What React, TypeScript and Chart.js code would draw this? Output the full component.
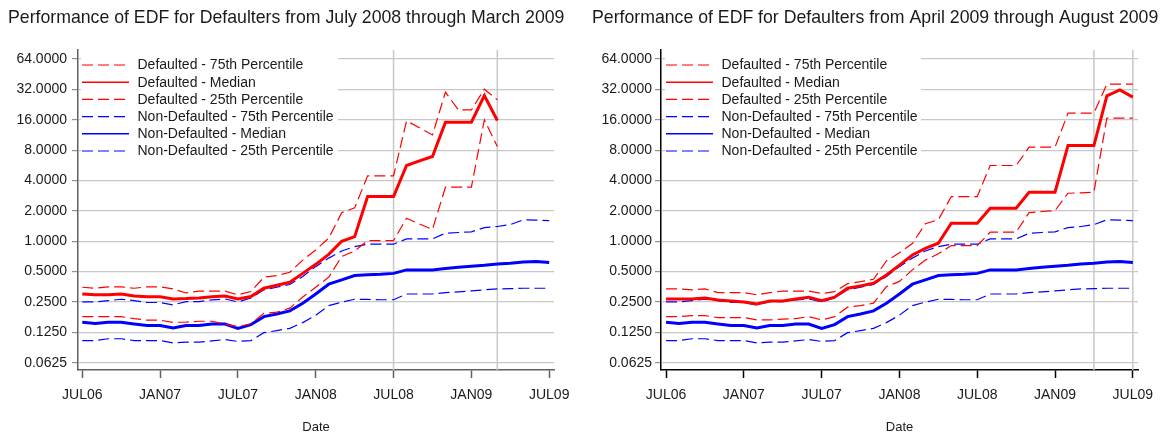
import React, { useEffect, useRef } from "react";
import { Chart, registerables } from "chart.js";

Chart.register(...registerables);

// ---------- DATA ----------
const monthLabels = [
  "JUL06", "AUG06", "SEP06", "OCT06", "NOV06", "DEC06",
  "JAN07", "FEB07", "MAR07", "APR07", "MAY07", "JUN07",
  "JUL07", "AUG07", "SEP07", "OCT07", "NOV07", "DEC07",
  "JAN08", "FEB08", "MAR08", "APR08", "MAY08", "JUN08",
  "JUL08", "AUG08", "SEP08", "OCT08", "NOV08", "DEC08",
  "JAN09", "FEB09", "MAR09", "APR09", "MAY09", "JUN09",
  "JUL09",
];

const xTickLabels = ["JUL06", "JAN07", "JUL07", "JAN08", "JUL08", "JAN09", "JUL09"];
const yTickValues = [0.0625, 0.125, 0.25, 0.5, 1, 2, 4, 8, 16, 32, 64];

// Non-defaulted (same in both panels)
const nonDef75 = [
  0.25, 0.25, 0.258, 0.266, 0.258, 0.247, 0.247, 0.234, 0.252, 0.252, 0.262, 0.268,
  0.25, 0.274, 0.33, 0.35, 0.372, 0.447, 0.56, 0.68, 0.8, 0.885, 0.934, 0.934,
  0.934, 1.055, 1.055, 1.055, 1.2, 1.22, 1.24, 1.366, 1.4, 1.46, 1.63, 1.62, 1.6,
];
const nonDef50 = [
  0.157, 0.153, 0.157, 0.157, 0.151, 0.146, 0.146, 0.138, 0.146, 0.146, 0.151, 0.151,
  0.137, 0.149, 0.179, 0.19, 0.204, 0.243, 0.3, 0.375, 0.414, 0.457, 0.464, 0.47,
  0.48, 0.52, 0.52, 0.52, 0.536, 0.553, 0.565, 0.578, 0.596, 0.605, 0.624, 0.629, 0.615,
];
const nonDef25 = [
  0.1036, 0.1036, 0.108, 0.108, 0.1036, 0.1036, 0.1036, 0.098, 0.0998, 0.1, 0.103, 0.106,
  0.1015, 0.1036, 0.124, 0.13, 0.137, 0.156, 0.185, 0.23, 0.249, 0.266, 0.265, 0.263,
  0.263, 0.3, 0.3, 0.3, 0.31, 0.315, 0.322, 0.33, 0.337, 0.339, 0.342, 0.342, 0.342,
];

// Left panel: defaulters July 2008 - March 2009
const defA75 = [
  0.35, 0.342, 0.353, 0.353, 0.342, 0.353, 0.353, 0.337, 0.307, 0.32, 0.32, 0.32,
  0.294, 0.317, 0.44, 0.457, 0.493, 0.65, 0.82, 1.07, 1.92, 2.14, 4.45, 4.45,
  4.45, 15.6, 13.3, 11.3, 30.0, 20.0, 20.0, 32.1, 25.2,
];
const defA50 = [
  0.3, 0.294, 0.294, 0.3, 0.287, 0.281, 0.281, 0.268, 0.27, 0.274, 0.281, 0.287,
  0.268, 0.283, 0.342, 0.366, 0.392, 0.48, 0.59, 0.74, 1.0, 1.11, 2.77, 2.77,
  2.77, 5.63, 6.26, 6.91, 15.1, 15.1, 15.1, 27.8, 15.7,
];
const defA25 = [
  0.179, 0.179, 0.179, 0.179, 0.171, 0.165, 0.165, 0.157, 0.158, 0.161, 0.161, 0.151,
  0.142, 0.152, 0.193, 0.198, 0.217, 0.28, 0.35, 0.44, 0.705, 0.8, 1.015, 1.015,
  1.015, 1.69, 1.48, 1.31, 3.43, 3.43, 3.43, 15.95, 8.68,
];

// Right panel: defaulters April 2009 - August 2009
const defB75 = [
  0.337, 0.337, 0.33, 0.337, 0.31, 0.31, 0.31, 0.294, 0.31, 0.32, 0.32, 0.32,
  0.303, 0.317, 0.38, 0.397, 0.42, 0.638, 0.77, 0.95, 1.49, 1.63, 2.77, 2.77,
  2.77, 5.63, 5.63, 5.63, 8.55, 8.55, 8.55, 18.6, 18.6, 18.6, 36, 36, 36,
];
const defB50 = [
  0.268, 0.268, 0.268, 0.274, 0.262, 0.256, 0.25, 0.239, 0.256, 0.256, 0.268, 0.279,
  0.258, 0.279, 0.342, 0.361, 0.383, 0.463, 0.58, 0.73, 0.85, 0.956, 1.51, 1.51,
  1.51, 2.12, 2.12, 2.12, 3.06, 3.06, 3.06, 8.88, 8.88, 8.88, 27.6, 31.6, 26.8,
];
const defB25 = [
  0.179, 0.179, 0.183, 0.183, 0.175, 0.175, 0.175, 0.166, 0.166, 0.169, 0.171, 0.179,
  0.166, 0.179, 0.222, 0.23, 0.243, 0.355, 0.4, 0.52, 0.65, 0.75, 0.906, 0.906,
  0.906, 1.23, 1.23, 1.23, 1.92, 1.97, 2.01, 2.99, 3.02, 3.06, 16.6, 16.6, 16.6,
];

const leftRefMonths = ["JUL08", "MAR09"];
const rightRefMonths = ["APR09", "JUL09"];

const seriesNames = [
  "Defaulted - 75th Percentile",
  "Defaulted - Median",
  "Defaulted - 25th Percentile",
  "Non-Defaulted - 75th Percentile",
  "Non-Defaulted - Median",
  "Non-Defaulted - 25th Percentile",
];

// ---------- STYLE ----------
const FONT = "'Liberation Sans', Arial, Helvetica, sans-serif";
const TEXT = "#1a1a1a";
const RED = "#ff0000";
const BLUE = "#0000ff";
const GRID = "#c8c8c8";
const DASH = [11, 5];

const idx = (label: string) => monthLabels.indexOf(label);
const pts = (vals: number[]) => vals.map((v, i) => ({ x: i, y: v }));

type PanelCfg = {
  title: string;
  d75: number[];
  d50: number[];
  d25: number[];
  refs: string[];
  axisWidth: number;
  rightPad: number;
  xMin: number;
  xMax: number;
  axisColor: string;
  titleX: number;
  legendX: number;
  boxRight: number;
  labelPad: number;
};

const panelPlugin = {
  id: "panelDeco",
  beforeDatasetsDraw(chart: any, _args: any, opts: any) {
    const { ctx, chartArea, scales } = chart;
    ctx.save();
    // reference vertical lines
    ctx.strokeStyle = GRID;
    ctx.lineWidth = 1.5;
    (opts.refs as string[]).forEach((m) => {
      const x = scales.x.getPixelForValue(idx(m));
      ctx.beginPath();
      ctx.moveTo(x, chartArea.top);
      ctx.lineTo(x, chartArea.bottom);
      ctx.stroke();
    });
    // legend box
    ctx.fillStyle = "#ffffff";
    ctx.fillRect(opts.legendX - 1, chartArea.top + 1, opts.boxRight - opts.legendX + 1, 112);
    const ds = chart.data.datasets;
    ctx.font = `14px ${FONT}`;
    ctx.textBaseline = "middle";
    ctx.textAlign = "left";
    ds.forEach((d: any, i: number) => {
      const y = 65 + i * 17.2;
      ctx.strokeStyle = d.borderColor;
      ctx.lineWidth = d.borderDash && d.borderDash.length ? 1.2 : 1.6;
      ctx.setLineDash(d.borderDash || []);
      ctx.beginPath();
      ctx.moveTo(opts.legendX, y);
      ctx.lineTo(opts.legendX + 47, y);
      ctx.stroke();
      ctx.setLineDash([]);
      ctx.fillStyle = TEXT;
      ctx.fillText(d.label, opts.legendX + 55.5, y + 0.5);
    });
    ctx.restore();
  },
  afterDraw(chart: any, _args: any, opts: any) {
    const { ctx, chartArea } = chart;
    ctx.save();
    ctx.fillStyle = TEXT;
    ctx.textBaseline = "middle";
    ctx.textAlign = "left";
    ctx.font = `17.7px ${FONT}`;
    ctx.fillText(opts.title, opts.titleX, 18);
    ctx.font = `13px ${FONT}`;
    ctx.textAlign = "center";
    ctx.fillText("Date", (chartArea.left + chartArea.right) / 2, 427);
    ctx.restore();
  },
};

function Panel({ cfg, left }: { cfg: PanelCfg; left: number }) {
  const ref = useRef<HTMLCanvasElement | null>(null);
  useEffect(() => {
    if (!ref.current) return;
    const mk = (label: string, vals: number[], color: string, dashed: boolean, median: boolean) => ({
      label,
      data: pts(vals),
      borderColor: color,
      backgroundColor: color,
      borderWidth: median ? 3 : 1.2,
      borderDash: dashed ? DASH : [],
      pointRadius: 0,
      pointHoverRadius: 0,
      tension: 0,
      fill: false,
    });
    const chart = new Chart(ref.current, {
      type: "line",
      data: {
        datasets: [
          mk(seriesNames[0], cfg.d75, RED, true, false),
          mk(seriesNames[1], cfg.d50, RED, false, true),
          mk(seriesNames[2], cfg.d25, RED, true, false),
          mk(seriesNames[3], nonDef75, BLUE, true, false),
          mk(seriesNames[4], nonDef50, BLUE, false, true),
          mk(seriesNames[5], nonDef25, BLUE, true, false),
        ] as any,
      },
      options: {
        animation: false,
        responsive: false,
        devicePixelRatio: 1,
        events: [],
        layout: { padding: { top: 50, left: 0, right: cfg.rightPad, bottom: 0 } },
        plugins: {
          legend: { display: false },
          title: { display: false },
          tooltip: { enabled: false },
          panelDeco: cfg as any,
        } as any,
        scales: {
          x: {
            type: "linear",
            min: cfg.xMin,
            max: cfg.xMax,
            afterBuildTicks: (s: any) => {
              s.ticks = xTickLabels.map((l) => ({ value: idx(l) }));
            },
            afterFit: (s: any) => {
              s.height = 63;
              s.paddingLeft = 0;
              s.paddingRight = 0;
            },
            ticks: {
              autoSkip: false,
              maxRotation: 0,
              padding: 9,
              color: TEXT,
              font: { family: FONT, size: 14 },
              callback: (v: any) => monthLabels[Math.round(Number(v))],
            },
            grid: {
              drawOnChartArea: false,
              drawTicks: true,
              tickLength: 8,
              tickColor: cfg.axisColor,
              tickWidth: 1.5,
            },
            border: { display: true, color: cfg.axisColor, width: 1.5 },
          },
          y: {
            type: "logarithmic",
            min: Math.pow(2, -4.24),
            max: Math.pow(2, 6.296),
            afterBuildTicks: (s: any) => {
              s.ticks = yTickValues.map((v) => ({ value: v }));
            },
            afterFit: (s: any) => {
              s.width = cfg.axisWidth;
              s.paddingTop = 0;
              s.paddingBottom = 0;
            },
            ticks: {
              autoSkip: false,
              padding: cfg.labelPad,
              color: TEXT,
              font: { family: FONT, size: 14 },
              callback: (v: any) => Number(v).toFixed(4),
            },
            grid: {
              color: GRID,
              lineWidth: 1.2,
              drawTicks: true,
              tickLength: 6,
              tickColor: "#909090",
              tickWidth: 1.2,
            },
            border: { display: true, color: cfg.axisColor, width: 1.5 },
          },
        },
      } as any,
      plugins: [panelPlugin as any],
    });
    return () => chart.destroy();
  }, [cfg]);
  return (
    <canvas
      ref={ref}
      width={581}
      height={433}
      style={{ position: "absolute", left, top: 0, width: 581, height: 433 }}
    />
  );
}

const leftCfg: PanelCfg = {
  title: "Performance of EDF for Defaulters from July 2008 through March 2009",
  d75: defA75,
  d50: defA50,
  d25: defA25,
  refs: leftRefMonths,
  axisWidth: 78,
  rightPad: 27,
  xMin: -0.33,
  xMax: 36.37,
  axisColor: "#606060",
  titleX: 8,
  legendX: 82,
  boxRight: 338,
  labelPad: 5,
};

const rightCfg: PanelCfg = {
  title: "Performance of EDF for Defaulters from April 2009 through August 2009",
  d75: defB75,
  d50: defB50,
  d25: defB25,
  refs: rightRefMonths,
  axisWidth: 80,
  rightPad: 24,
  xMin: -0.39,
  xMax: 36.4,
  axisColor: "#000000",
  titleX: 11,
  legendX: 85,
  boxRight: 340,
  labelPad: 3,
};

export default function App() {
  return (
    <div
      style={{
        position: "fixed",
        left: 0,
        top: 0,
        width: 1162,
        height: 433,
        background: "#ffffff",
        overflow: "hidden",
      }}
    >
      <Panel cfg={leftCfg} left={0} />
      <Panel cfg={rightCfg} left={581} />
    </div>
  );
}
